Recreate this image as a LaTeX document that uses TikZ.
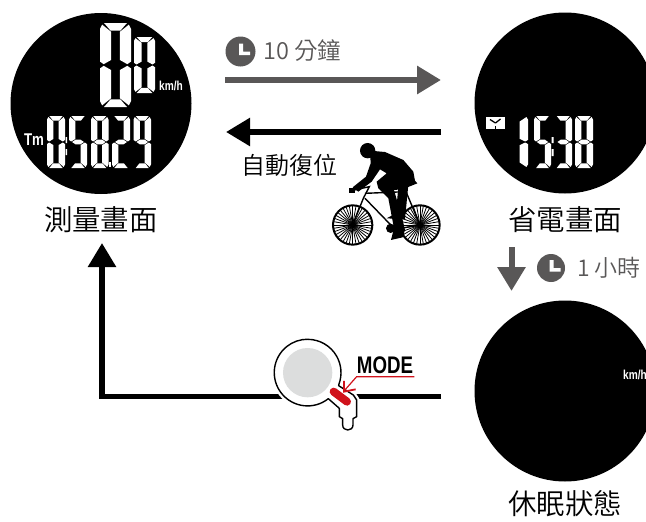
\documentclass[tikz,border=0pt]{standalone}
\usepackage{fontspec}
\setmainfont{Liberation Sans}
\newfontfamily\cjk[UprightFont=* DemiLight]{Noto Sans CJK TC}
\newfontfamily\condb[FakeStretch=0.78]{Liberation Sans Bold}
\usetikzlibrary{arrows.meta}
\definecolor{gr}{HTML}{595757}
\definecolor{rd}{HTML}{D0121B}
\definecolor{pale}{HTML}{DCDDDD}
\tikzset{
 disc/.style={circle,fill=black,minimum size=181pt,inner sep=0pt},
 lbl/.style={inner sep=0pt,font=\cjk\fontsize{28.5}{28.5}\selectfont},
 graytxt/.style={inner sep=0pt,text=gr,anchor=west},
 lcd/.style={inner sep=0pt,text=white,font=\condb},
 seg/.style={fill=white},
 gra/.style={draw=gr,line width=6pt,-{Triangle[length=24pt,width=27pt]}},
 bla/.style={draw=black,line width=5.5pt,-{Triangle[length=24pt,width=27pt]}},
 clk/.style={circle,fill=gr,inner sep=0pt},
}
\def\sega{\fill[seg] (.13,0)--(.87,0)--(.66,.09)--(.34,.09)--cycle;}
\def\segb{\fill[seg] (.93,.02)--(1,.07)--(1,.46)--(.88,.49)--(.64,.44)--(.64,.105)--cycle;}
\def\segc{\fill[seg] (.93,.98)--(1,.93)--(1,.54)--(.88,.51)--(.64,.56)--(.64,.895)--cycle;}
\def\segd{\fill[seg] (.13,1)--(.87,1)--(.66,.91)--(.34,.91)--cycle;}
\def\sege{\fill[seg] (.07,.98)--(0,.93)--(0,.54)--(.12,.51)--(.36,.56)--(.36,.895)--cycle;}
\def\segf{\fill[seg] (.07,.02)--(0,.07)--(0,.46)--(.12,.49)--(.36,.44)--(.36,.105)--cycle;}
\def\segg{\fill[seg] (.17,.5)--(.36,.455)--(.64,.455)--(.83,.5)--(.64,.545)--(.36,.545)--cycle;}
\newcommand\lcddigit[5]{\begin{scope}[shift={(#1,#2)},xscale=#3,yscale=#4]
 \foreach \s in {#5}{\csname seg\s\endcsname}\end{scope}}
\newcommand\clockhand[2]{\fill[white] (#1-1,#2-8)--(#1+3,#2-8)--(#1+3,#2)--(#1+10,#2)--(#1+10,#2+3.5)--(#1-1,#2+3.5)--cycle;}
\begin{document}
\begin{tikzpicture}[x=1pt,y=-1pt]
\useasboundingbox (0,0) rectangle (646,522);
\clip (0,0) rectangle (646,522);
% displays
\node[disc] (measure) at (101,103.5) {};
\node[disc] (save) at (565,103) {};
\node[disc] (sleep) at (565,391) {};
% measure digits
\lcddigit{100}{23}{31}{84}{a,b,c,d,e,f}
\lcddigit{134}{37}{21}{56}{a,b,c,d,e,f}
\lcddigit{47}{116}{18}{52}{a,b,c,d,e,f}
\lcddigit{69}{116}{18}{52}{a,c,d,f,g}
\lcddigit{91}{116}{17.5}{52}{a,b,c,d,e,f,g}
\lcddigit{112}{116}{18}{52}{a,b,d,e,g}
\lcddigit{133.5}{116}{17.5}{52}{a,b,c,d,f,g}
\fill[white] (65.5,137) rectangle (67,143) (65.5,149) rectangle (67,155);
\fill[white] (108.5,162) rectangle (110.5,167);
\node[lcd,font=\condb\fontsize{13}{13}\selectfont] (kmh1) at (171,86) {km/h};
\node[lcd,font=\condb\fontsize{17}{17}\selectfont] (tm) at (34,140) {Tm};
% save digits
\lcddigit{505}{116}{23}{52}{b,c}
\lcddigit{534}{116}{17}{52}{a,c,d,f,g}
\lcddigit{554.5}{116}{17.5}{52}{a,b,c,d,g}
\lcddigit{575}{116}{18}{52}{a,b,c,d,e,f,g}
\fill[white] (551.5,137) rectangle (553.5,143) (551.5,149) rectangle (553.5,156);
\fill[white] (486,117) rectangle (505,128.5);
\draw[black,line width=1.3pt] (495.5,123)--(500.5,119);
\draw[black,line width=1.3pt] (495.5,123)--(490,119.5);
\fill[black] (495,125.5) rectangle (496,128.5);
% sleep
\node[lcd,font=\condb\fontsize{13}{13}\selectfont] (kmh2) at (635,375) {km/h};
% labels
\node[lbl] (l1) at (101,220) {測量畫面};
\node[lbl] (l2) at (565,220) {省電畫面};
\node[lbl] (l3) at (565,504) {休眠狀態};
% timed arrows
\coordinate (a1s) at (225,80); \coordinate (a1e) at (441,80);
\draw[gra] (a1s)--(a1e);
\node[clk,minimum size=30pt] (c1) at (240.5,51.5) {};
\clockhand{240}{51.5}
\node[graytxt,font=\cjk\fontsize{23.5}{23.5}\selectfont] (t1) at (263,51) {10 分鐘};
\coordinate (a2s) at (441,132); \coordinate (a2e) at (226,132);
\draw[bla] (a2s)--(a2e);
\node[inner sep=0pt,font=\cjk\fontsize{24}{24}\selectfont] (t2) at (289.5,165) {自動復位};
\coordinate (a3s) at (511.5,247); \coordinate (a3e) at (511.5,291);
\draw[gra] (a3s)--(a3e);
\node[clk,minimum size=28pt] (c2) at (551,268) {};
\clockhand{550.5}{268}
\node[graytxt,font=\cjk\fontsize{23}{23}\selectfont] (t3) at (577,268) {1 小時};
% return line
\coordinate (r1) at (441,396.5); \coordinate (r2) at (102,396.5); \coordinate (r3) at (102,243);
\draw[bla] (r1)--(r2)--(r3);
% device
\begin{scope}[shift={(260,320)},x=.3333pt,y=-.3333pt]
 \def\devpath{(143,58) arc[start angle=-90,end angle=20,radius=100]
  --(236,197)--(280,225)--(290,240)--(290,290)--(279,296)--(279,315) .. controls (279,335) and (248,335) .. (248,315)
  --(248,296)--(238,290)--(238,265)--(205,236) arc[start angle=51.5,end angle=270,radius=100] --cycle}
 \draw[white,line width=6pt,fill=white,line join=round] \devpath;
 \draw[black,line width=1.4pt,fill=white,line join=round] \devpath;
 \fill[pale] (143,158) circle[radius=74];
 \draw[rd,line width=8pt,line cap=round] (221,215)--(261,245);
 \draw[rd,line width=1.2pt] (463,170)--(290,170)--(252,213);
 \draw[rd,line width=1.8pt] (252,183)--(252,215)--(287,208);
\end{scope}
\node[inner sep=0pt,font=\condb\fontsize{24}{24}\selectfont] (mode) at (385,365) {MODE};
% cyclist
\begin{scope}[shift={(320,130)},x=.3333pt,y=-.3333pt]
 \foreach \cx in {98,300}{
  \draw[black,line width=2pt] (\cx,285) circle[radius=59];
  \foreach \a in {0,10,...,350}{\draw[black,line width=.8pt] (\cx,285)--++(\a:58);}
  \fill[black] (\cx,285) circle[radius=6];
 }
 \draw[black,line width=1.4pt] (90,183)--(148,170)--(130,205)--(98,285)
   (135,190)--(258,185)--(225,298)--(135,205) (258,185)--(300,285)--(225,298);
 \fill[black] (143,62) circle[radius=23];
 \fill[black] (150,62)--(195,66)--(250,90)--(280,125)--(285,152)--(292,160)--(262,172)--(245,178)--(222,180)
   --(248,270)--(255,300)--(248,322)--(213,330)--(222,295)--(205,205)--(175,175)--(170,155)--(200,130)--(180,118)
   --(155,155)--(115,185)--(98,172)--(138,140)--(152,100)--cycle;
 \fill[black] (235,170)--(265,165)--(255,268)--(200,265)--(228,250)--cycle;
 \fill[black] (212,295) circle[radius=14];
 \fill[black] (88,175) rectangle (104,190);
\end{scope}
\end{tikzpicture}
\end{document}
